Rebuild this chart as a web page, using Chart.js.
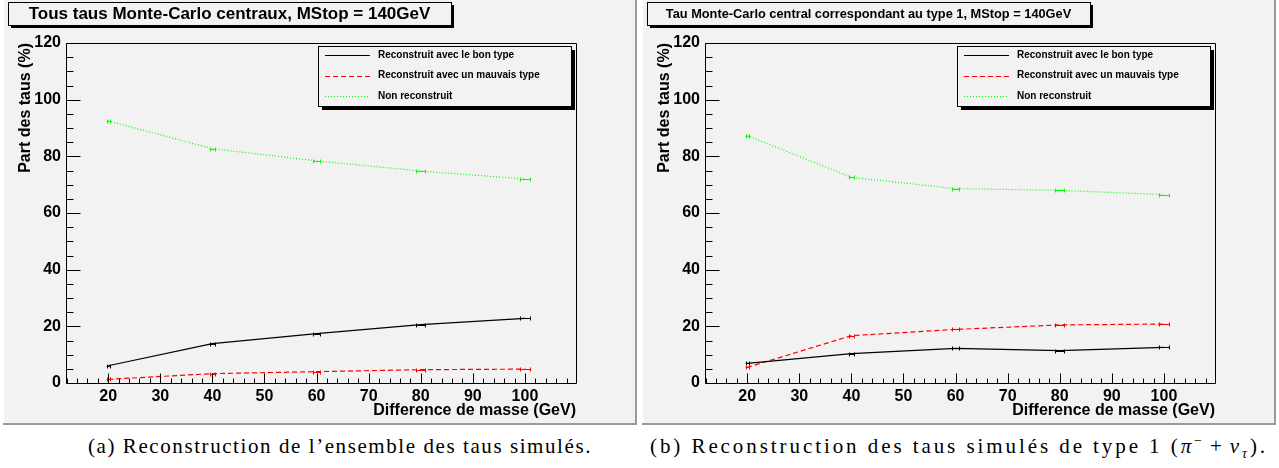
<!DOCTYPE html>
<html><head><meta charset="utf-8">
<script src="https://cdn.jsdelivr.net/npm/chart.js@4.4.0/dist/chart.umd.min.js"></script>
<style>
html,body{margin:0;padding:0;background:#fff;width:1279px;height:468px;overflow:hidden;}
.panel{position:absolute;top:0;width:634px;height:425px;}
.panel canvas{display:block;}
.cap{position:absolute;top:436px;font-family:"Liberation Serif","Times New Roman",serif;font-size:21px;white-space:nowrap;color:#000;line-height:1;}
.cap sup,.cap sub{font-size:14px;line-height:0;}
.cap .op{margin:0 5px;}
</style></head><body>
<div class="panel" style="left:3px"><canvas id="ca" width="634" height="425"></canvas></div>
<div class="panel" style="left:642px"><canvas id="cb" width="634" height="425"></canvas></div>
<div class="cap" id="capa">(a) Reconstruction de l’ensemble des taus simulés.</div>
<div class="cap" id="capb">(b) Reconstruction des taus simulés de type 1 (<i>π</i><sup>−</sup><span class="op">+</span><i>ν</i><sub><i>τ</i></sub>).</div>
<script>
// ---- data ----
const massDiff = [20, 40, 60, 80, 100];
const massErr = [0.3, 0.5, 0.7, 0.85, 1.0];
const xTickValues = [20, 30, 40, 50, 60, 70, 80, 90, 100];
const yTickValues = [0, 20, 40, 60, 80, 100, 120];
const seriesNames = ['Reconstruit avec le bon type', 'Reconstruit avec un mauvais type', 'Non reconstruit'];
const goodA = [6.1, 13.9, 17.4, 20.6, 22.8];
const wrongA = [1.3, 3.3, 4.0, 4.7, 4.9];
const noneA = [92.5, 82.7, 78.4, 74.8, 72.0];
const goodB = [6.9, 10.4, 12.2, 11.4, 12.6];
const wrongB = [5.5, 16.7, 18.9, 20.5, 20.8];
const noneB = [87.3, 72.6, 68.6, 68.0, 66.5];
const titleA = 'Tous taus Monte-Carlo centraux, MStop = 140GeV';
const titleB = 'Tau Monte-Carlo central correspondant au type 1, MStop = 140GeV';
const xTitle = 'Difference de masse (GeV)';
const yTitle = 'Part des taus (%)';

const FAM = '"Liberation Sans", Arial, Helvetica, sans-serif';
const BG = '#f2f2f2';
const styles = [
  {color: '#000000', dash: []},
  {color: '#ff0000', dash: [5, 3]},
  {color: '#00ff00', dash: [1, 2]}
];

const rootPlugin = {
  id: 'rootDecor',
  beforeDraw(chart) {
    const ctx = chart.ctx, W = chart.width, H = chart.height;
    ctx.save();
    ctx.fillStyle = BG;
    ctx.fillRect(0, 0, W, H);
    ctx.fillStyle = '#9a9a9a';
    ctx.fillRect(0, H - 2, W, 2);
    ctx.fillRect(W - 2, 0, 2, H);
    ctx.fillStyle = '#ffffff';
    ctx.fillRect(0, 0, 1, H - 2);
    ctx.restore();
  },
  afterDatasetsDraw(chart) {
    const ctx = chart.ctx, xs = chart.scales.x, ys = chart.scales.y;
    ctx.save();
    ctx.lineWidth = 1;
    chart.data.datasets.forEach((ds, k) => {
      ctx.strokeStyle = styles[k].color;
      ds.data.forEach((p, i) => {
        const e = massErr[i];
        const x1 = xs.getPixelForValue(p.x - e), x2 = xs.getPixelForValue(p.x + e);
        const y = Math.round(ys.getPixelForValue(p.y)) + 0.5;
        ctx.beginPath();
        ctx.moveTo(x1, y); ctx.lineTo(x2, y);
        ctx.moveTo(Math.round(x1) + 0.5, y - 2); ctx.lineTo(Math.round(x1) + 0.5, y + 2);
        ctx.moveTo(Math.round(x2) + 0.5, y - 2); ctx.lineTo(Math.round(x2) + 0.5, y + 2);
        ctx.stroke();
      });
    });
    ctx.restore();
  },
  afterDraw(chart) {
    const ctx = chart.ctx, xs = chart.scales.x, ys = chart.scales.y, a = chart.chartArea;
    const o = chart.options.plugins.rootDecor;
    ctx.save();
    ctx.strokeStyle = '#000';
    ctx.lineWidth = 1;
    const L = Math.round(a.left) + 0.5, R = Math.round(a.right) + 0.5, T = Math.round(a.top) + 0.5, B = Math.round(a.bottom) + 0.5;
    ctx.beginPath();
    ctx.rect(L, T, R - L, B - T);
    for (let v = Math.ceil(xs.min / 2) * 2; v <= xs.max; v += 2) {
      const px = Math.round(xs.getPixelForValue(v)) + 0.5;
      const len = (v % 10 === 0) ? 10 : 5;
      ctx.moveTo(px, B); ctx.lineTo(px, B - len);
    }
    for (let v = 0; v <= ys.max; v += 5) {
      const py = Math.round(ys.getPixelForValue(v)) + 0.5;
      const len = (v % 20 === 0) ? 14 : 7;
      ctx.moveTo(L, py); ctx.lineTo(L + len, py);
    }
    ctx.stroke();

    // title box
    const tb = {x: 5, y: 2, w: 443, h: 23};
    ctx.fillStyle = '#000';
    ctx.fillRect(tb.x + 3, tb.y + 3, tb.w, tb.h);
    ctx.fillStyle = BG;
    ctx.fillRect(tb.x, tb.y, tb.w, tb.h);
    ctx.strokeRect(tb.x + 0.5, tb.y + 0.5, tb.w, tb.h);
    ctx.fillStyle = '#000';
    ctx.font = 'bold ' + o.titleSize + 'px ' + FAM;
    ctx.textAlign = 'center';
    ctx.textBaseline = 'middle';
    ctx.fillText(o.title, tb.x + tb.w / 2, tb.y + tb.h / 2 + 1);

    // legend box
    const lb = {x: 315, y: 46, w: 253, h: 60};
    ctx.fillStyle = '#000';
    ctx.fillRect(lb.x + 4, lb.y + 4, lb.w, lb.h);
    ctx.fillStyle = BG;
    ctx.fillRect(lb.x, lb.y, lb.w, lb.h);
    ctx.strokeStyle = '#000';
    ctx.strokeRect(lb.x + 0.5, lb.y + 0.5, lb.w, lb.h);
    ctx.font = 'bold 10px ' + FAM;
    ctx.textAlign = 'left';
    ctx.textBaseline = 'middle';
    const rows = [55, 75.5, 96];
    chart.data.datasets.forEach((ds, i) => {
      const y = Math.round(rows[i]) + 0.5;
      ctx.strokeStyle = styles[i].color;
      ctx.lineWidth = 1.2;
      ctx.setLineDash(styles[i].dash);
      ctx.beginPath();
      ctx.moveTo(322, y); ctx.lineTo(367, y);
      ctx.stroke();
      ctx.setLineDash([]);
      ctx.fillStyle = '#000';
      ctx.fillText(ds.label, 375, rows[i]);
    });
    ctx.restore();
  }
};

function makeChart(id, series, title, titleSize) {
  const datasets = series.map((vals, i) => ({
    label: seriesNames[i],
    data: massDiff.map((x, j) => ({x: x, y: vals[j]})),
    borderColor: styles[i].color,
    borderDash: styles[i].dash,
    borderWidth: 1.2,
    pointRadius: 0,
    tension: 0,
    fill: false
  }));
  const font16 = {family: FAM, size: 16, weight: 'bold'};
  return new Chart(document.getElementById(id), {
    type: 'line',
    data: {datasets},
    plugins: [rootPlugin],
    options: {
      responsive: false,
      animation: false,
      devicePixelRatio: 1,
      layout: {padding: {top: 43, right: 61, left: 0, bottom: 0}},
      plugins: {
        legend: {display: false},
        tooltip: {enabled: false},
        rootDecor: {title: title, titleSize: titleSize}
      },
      scales: {
        x: {
          type: 'linear', min: 11.9, max: 109.8,
          afterBuildTicks: (s) => { s.ticks = xTickValues.map(v => ({value: v})); },
          afterFit: (s) => { s.height = 42; },
          grid: {display: false, drawTicks: false},
          border: {display: false},
          ticks: {font: font16, color: '#000', padding: 4, maxRotation: 0, autoSkip: false},
          title: {display: true, text: xTitle, align: 'end', color: '#000', font: font16, padding: {top: 0, bottom: 5}}
        },
        y: {
          type: 'linear', min: 0, max: 120,
          afterBuildTicks: (s) => { s.ticks = yTickValues.map(v => ({value: v})); },
          afterFit: (s) => { s.width = 63; },
          grid: {display: false, drawTicks: false},
          border: {display: false},
          ticks: {font: font16, color: '#000', padding: 5, autoSkip: false},
          title: {display: true, text: yTitle, align: 'end', color: '#000', font: font16, padding: {top: 13, bottom: 0}}
        }
      }
    }
  });
}

makeChart('ca', [goodA, wrongA, noneA], titleA, 17);
makeChart('cb', [goodB, wrongB, noneB], titleB, 12.8);

function fitCaption(id, left, right) {
  const el = document.getElementById(id);
  const n = el.textContent.length;
  el.style.letterSpacing = '0px';
  const w = el.getBoundingClientRect().width;
  const ls = (right - left - w) / n;
  el.style.letterSpacing = ls + 'px';
  el.style.left = left + 'px';
}
fitCaption('capa', 88, 592);
fitCaption('capb', 650, 1268);
</script>
</body></html>
